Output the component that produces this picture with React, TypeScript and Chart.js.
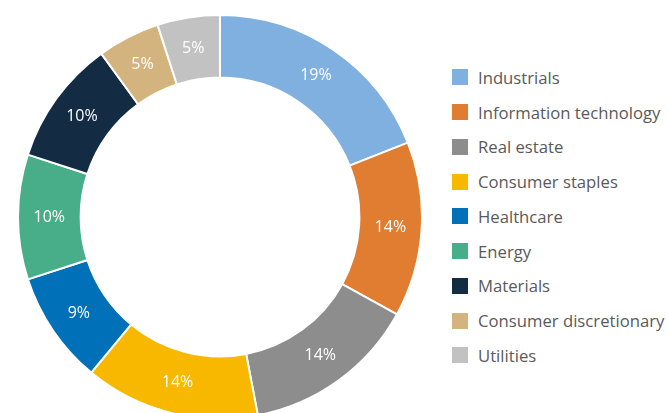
import React, { useEffect, useRef } from "react";
import { Chart, registerables } from "chart.js";

Chart.register(...registerables);

const categories = [
  "Industrials",
  "Information technology",
  "Real estate",
  "Consumer staples",
  "Healthcare",
  "Energy",
  "Materials",
  "Consumer discretionary",
  "Utilities",
];
const shares = [19, 14, 14, 14, 9, 10, 10, 5, 5];
const colors = [
  "#7FB0DF",
  "#E07D31",
  "#8C8D8C",
  "#F8B800",
  "#0070B8",
  "#48AE8A",
  "#132C44",
  "#D4B47E",
  "#C2C2C2",
];

const FONT = "'Open Sans', Lato, sans-serif";

const arcLabels = {
  id: "arcLabels",
  afterDatasetsDraw(chart: any) {
    const ctx = chart.ctx;
    const meta = chart.getDatasetMeta(0);
    ctx.save();
    ctx.fillStyle = "#ffffff";
    ctx.font = `16px ${FONT}`;
    ctx.textAlign = "center";
    ctx.textBaseline = "middle";
    meta.data.forEach((arc: any, i: number) => {
      const p = arc.tooltipPosition();
      ctx.fillText(`${shares[i]}%`, p.x, p.y);
    });
    ctx.restore();
  },
};

export default function App() {
  const ref = useRef<HTMLCanvasElement | null>(null);
  useEffect(() => {
    if (!ref.current) return;
    const chart = new Chart(ref.current, {
      type: "doughnut",
      data: {
        labels: categories,
        datasets: [
          {
            data: shares,
            backgroundColor: colors,
            borderColor: "#ffffff",
            borderWidth: 2,
          },
        ],
      },
      options: {
        animation: false,
        responsive: false,
        maintainAspectRatio: false,
        cutout: "69%",
        layout: { padding: 0 },
        plugins: {
          legend: { display: false },
          tooltip: { enabled: false },
        },
      },
      plugins: [arcLabels],
    });
    return () => chart.destroy();
  }, []);

  return (
    <div
      style={{
        position: "fixed",
        left: 0,
        top: 0,
        width: 668,
        height: 413,
        overflow: "hidden",
        background: "#ffffff",
        fontFamily: FONT,
      }}
    >
      <canvas
        ref={ref}
        width={406}
        height={406}
        style={{ position: "absolute", left: 17, top: 14, width: 406, height: 406 }}
      />
      <div style={{ position: "absolute", left: 452, top: 60 }}>
        {categories.map((c, i) => (
          <div
            key={c}
            style={{
              display: "flex",
              alignItems: "center",
              height: 34.75,
              whiteSpace: "nowrap",
            }}
          >
            <span
              style={{
                display: "inline-block",
                width: 16,
                height: 16,
                background: colors[i],
                marginRight: 10,
              }}
            />
            <span style={{ fontSize: 16.7, color: "#5a5a5a" }}>{c}</span>
          </div>
        ))}
      </div>
    </div>
  );
}
